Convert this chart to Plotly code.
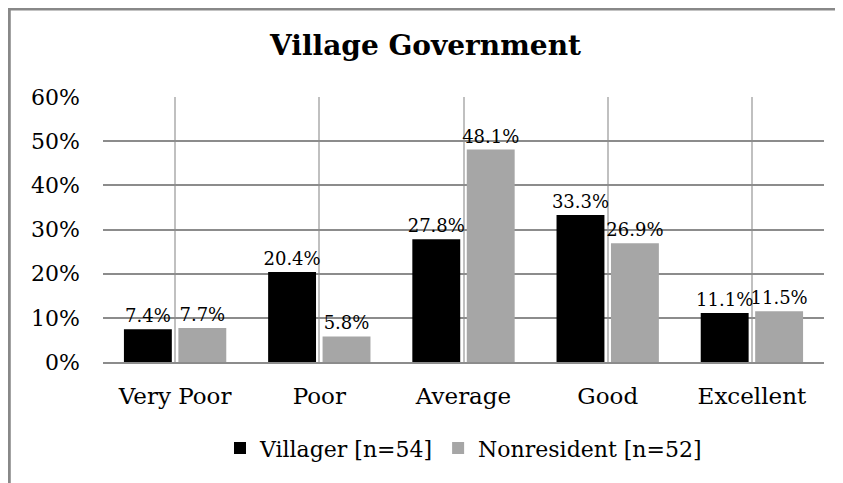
import plotly.graph_objects as go

categories = ["Very Poor", "Poor", "Average", "Good", "Excellent"]
villager = [0.074, 0.204, 0.278, 0.333, 0.111]
nonresident = [0.077, 0.058, 0.481, 0.269, 0.115]
series_names = ["Villager [n=54]", "Nonresident [n=52]"]
y_ticks = [0, 0.1, 0.2, 0.3, 0.4, 0.5, 0.6]

FONT = "DejaVu Serif"

# the page body adds an 8px margin, so the figure is drawn 8px smaller
fig = go.Figure()
for name, vals, color in [(series_names[0], villager, "#000000"),
                          (series_names[1], nonresident, "#a6a6a6")]:
    fig.add_trace(go.Bar(
        x=categories, y=vals, name=name, marker=dict(color=color, line_width=0),
        text=[f"{v * 100:.1f}%" for v in vals],
        textposition="outside",
        textfont=dict(family=FONT, size=18, color="#000000"),
        cliponaxis=False,
    ))

fig.update_layout(
    width=835, height=475,
    margin=dict(l=95, r=19, t=89, b=121),
    paper_bgcolor="white", plot_bgcolor="white",
    barmode="group", bargap=0.245, bargroupgap=0.12,
    title=dict(text="<b>Village Government</b>", x=0.5, xanchor="center",
               y=1 - 37 / 475, yanchor="middle",
               font=dict(family=FONT, size=28, color="#000000")),
    font=dict(family=FONT, color="#000000"),
    showlegend=True,
    legend=dict(orientation="h", x=0.5, xanchor="center", y=-0.325, yanchor="middle",
                font=dict(family=FONT, size=22), itemwidth=30),
    uniformtext=dict(mode="show", minsize=18),
)
fig.update_xaxes(showgrid=True, gridcolor="#c0c0c0", gridwidth=2,
                 showline=True, linecolor="#8c8c8c", linewidth=2,
                 tickfont=dict(family=FONT, size=23), ticks="",
                 ticklabelstandoff=12)
fig.update_yaxes(range=[0, 0.6], tickvals=y_ticks, tickformat=".0%",
                 showgrid=True, gridcolor="#8c8c8c", gridwidth=2,
                 zeroline=False, showline=False,
                 tickfont=dict(family=FONT, size=22), ticks="",
                 ticklabelstandoff=22)
fig.add_shape(type="rect", xref="paper", yref="paper",
              x0=-0.130, x1=1.05, y0=-0.5, y1=1.332,
              line=dict(color="#888888", width=3), layer="below")

fig.write_html("out.html")
